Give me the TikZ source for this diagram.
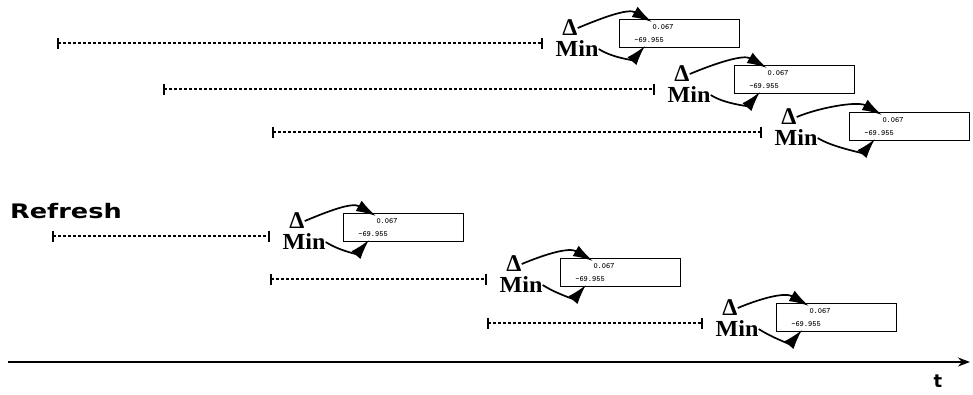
\documentclass[tikz,border=0pt]{standalone}
\usepackage{fontspec}
\setmainfont{Liberation Serif}
\newfontfamily\headfont{DejaVu Sans}
\usetikzlibrary{arrows.meta,calc}
\begin{document}
\begin{tikzpicture}[x=1pt,y=-1pt,
  span/.style={line width=1.8pt, dash pattern=on 3pt off 2pt, {Bar[width=11pt,line width=1.8pt]}-{Bar[width=11pt,line width=1.8pt]}},
  disp/.style={draw, line width=0.9pt, minimum width=120pt, minimum height=28pt, anchor=north west, inner sep=0pt},
  dsym/.style={font=\fontsize{24}{24}\selectfont\bfseries, inner sep=0pt},
  mtext/.style={font=\fontsize{23}{23}\selectfont\bfseries, inner sep=0pt, xscale=1.05},
  pointer/.style={line width=1.7pt, -{Latex[length=20pt,width=12pt]}},
  readout/.style={font=\fontsize{8}{8}\selectfont\bfseries\ttfamily, inner sep=0pt}]
\useasboundingbox (0,0) rectangle (973,394);
\foreach \i/\xs/\xe/\ly/\bx/\by in {1/57/543/43/619/19, 2/163/655/89/734/65, 3/272/762/132/849/112, 4/52/270/236/343/213, 5/270/487/279/560/258, 6/487/703/323/776/303} {
  \coordinate (s\i) at (\xs,\ly);
  \coordinate (e\i) at (\xe,\ly);
  \draw[span] (s\i) -- (e\i);
  \node[dsym] (d\i) at (\xe+27,\ly-15) {Δ};
  \node[mtext] (m\i) at (\xe+34,\ly+6) {Min};
  \node[disp] (b\i) at (\bx,\by) {};
  \node[readout] (r\i) at ($(b\i.north west)+(44,8)$) {0.067};
  \node[readout] (q\i) at ($(b\i.north west)+(30,21)$) {-69.955};
  \draw[pointer] (d\i.east) .. controls +(24,-10) and +(-24,-14) .. ($(b\i.north west)+(33,3)$);
  \draw[pointer] (m\i.east) .. controls +(14,9) and +(-12,14) .. ($(b\i.south west)+(26,-2)$);
}
\node[font=\headfont\bfseries\fontsize{20}{20}\selectfont, xscale=1.28, inner sep=0pt] (refresh) at (66,211) {Refresh};
\coordinate (t0) at (8,362);
\coordinate (t1) at (970,362);
\draw[line width=2pt, -{Stealth[length=12pt,width=9pt]}] (t0) -- (t1);
\node[font=\headfont\bfseries\fontsize{18}{18}\selectfont, inner sep=0pt] (tlabel) at (938,381) {t};
\end{tikzpicture}
\end{document}
